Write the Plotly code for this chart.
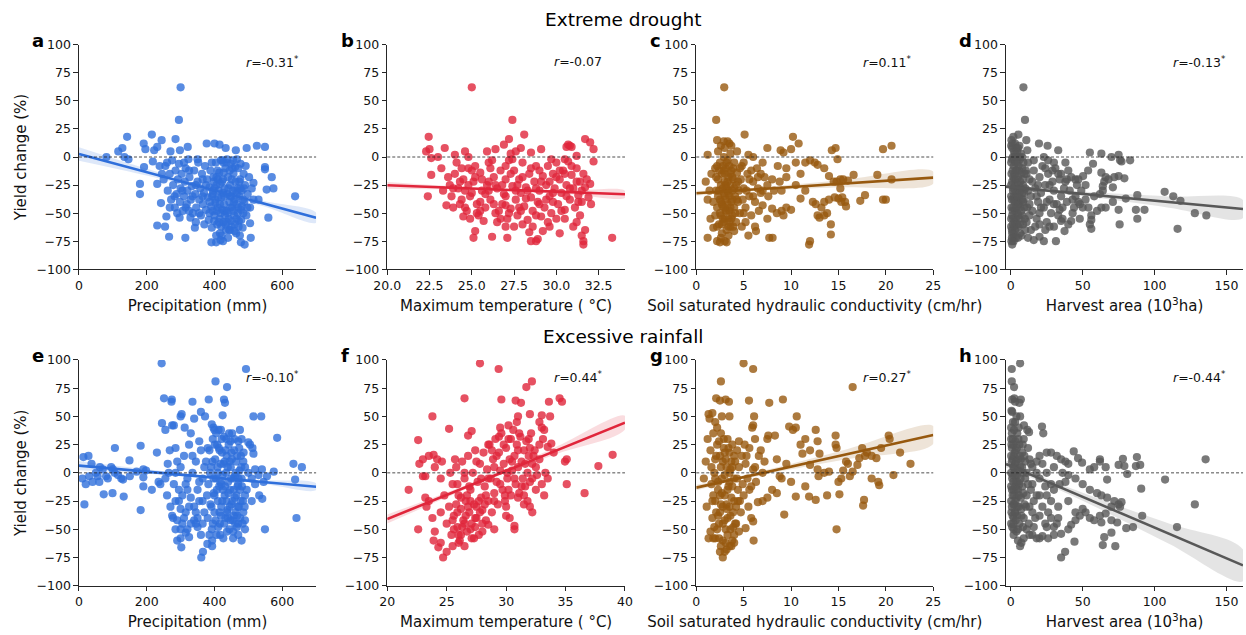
import plotly.graph_objects as go

FONT = "DejaVu Sans"

# ---------------- Extreme drought: (x, yield change %) ----------------
drought_precip = [
    (300,62),(295,33),(81,0),(116,5),(128,8),(142,18),(134,0),(146,-2),(180,-24),(180,-33),(191,12),(196,7),
    (215,20),(218,-4),(222,6),(231,9),(244,15),(231,-61),(254,-62),(266,-71),(314,-72),(258,-53),(192,-9),
    (231,-24),(242,-41),(297,-54),(329,-54),(342,-63),(391,-76),(405,-76),(418,-74),(425,-75),(478,-76),
    (489,-78),(507,-72),(505,-59),(559,-54),(554,-29),(574,-28),(569,-18),(549,-9),(549,-11),(638,-35),
    (549,9),(525,10),(495,8),(463,6),(377,12),(400,12),(415,11),(433,8),(321,9),(285,16),(298,6),(515,-23),
    (530,-38),(245,-15),(260,-5),(270,5),(238,-8),
    (250,-20),(255,-8),(262,-30),(268,-15),(272,-38),(275,-3),(278,-25),(283,-45),(285,-12),(288,-33),
    (292,-20),(295,-6),(298,-40),(300,-28),(303,-15),(306,-48),(310,-35),(312,-22),(315,-10),(318,-42),
    (320,-30),(323,-2),(326,-18),(330,-38),(333,-26),(336,-50),(340,-12),(343,-33),(346,-45),(350,-22),
    (352,-5),(355,-38),(358,-28),(360,-52),(363,-15),(366,-42),(369,-32),(372,-8),(375,-47),(378,-20),
    (380,-36),(383,-56),(385,-27),(388,-12),(390,-44),(392,-63),(395,-33),(397,-18),(400,-52),(402,-38),
    (404,-5),(406,-25),(408,-60),(410,-45),(412,-30),(414,-14),(416,-68),(418,-50),(420,-36),(422,-22),
    (424,-3),(426,-58),(428,-42),(430,-28),(432,-10),(434,-65),(436,-48),(438,-33),(440,-18),(442,-55),
    (444,-40),(446,-25),(448,-6),(450,-62),(452,-45),(454,-30),(456,-15),(458,-52),(460,-38),(462,-22),
    (464,-68),(466,-42),(468,-28),(470,-10),(472,-57),(474,-35),(476,-20),(478,-47),(480,-30),(483,-63),
    (486,-15),(488,-40),(490,-25),(494,-52),(498,-33),(502,-18),(505,-45),(510,-28),(515,-38),
    (405,-70),(415,-55),(425,-20),(435,-5),(445,-65),(455,-3),(465,-55),(475,-70),(485,-50),(420,-62),
    (440,-72),(460,-60),(430,-48),(450,-35),(410,-20),(400,-28),(395,-48),(470,-45),(425,-32),(445,-12),
]
drought_precip_core = [
    (392,-5),(398,-22),(403,-41),(409,-12),(413,-58),(419,-3),(423,-47),(427,-14),(431,-52),(437,-2),
    (441,-28),(447,-45),(451,-20),(457,-40),(461,-9),(467,-32),(471,-62),(477,-6),(481,-44),(487,-28),
    (393,-35),(399,-57),(407,-48),(411,-36),(417,-24),(421,-70),(429,-35),(433,-60),(439,-50),(443,-65),
    (449,-57),(453,-10),(459,-66),(463,-30),(469,-50),(473,-22),(479,-56),(484,-38),(492,-8),(497,-45),
    (386,-40),(396,-30),(426,-5),(446,-35),(466,-2),(436,-58),(456,-48),(476,-28),(406,-18),(416,-42),
    (305,-30),(315,-45),(325,-12),(335,-35),(345,-25),(355,-50),(365,-35),(375,-25),(385,-50),(365,-20),
    (345,-58),(325,-48),(310,-5),(370,-60),(350,-2),(282,-35),(290,-50),(268,-45),
]

drought_tmax = [
    (25.0,62),(27.4,33),(22.45,18),(22.3,5),(22.5,7),(22.6,-1),(22.6,-16),(22.4,-35),(23.4,8),(23.0,0),
    (23.2,-10),(23.3,-30),(23.5,-43),(24.0,2),(24.6,5),(24.8,0),(25.2,-66),(25.1,-72),(26.2,-71),(27.1,-72),
    (28.1,20),(27.2,16),(26.9,11),(25.9,5),(26.4,7),(27.9,8),(28.5,4),(29.1,7),(30.6,9),(30.7,11),(30.8,10),
    (30.9,9),(31.2,1),(31.7,16),(32.0,13),(32.2,7),(32.2,-4),(32.05,-42),(33.3,-72),(31.6,-78),(31.6,-75),
    (31.7,-65),(31.5,-70),(31.2,-58),(31.4,-52),(31.0,-62),(28.5,-75),(28.8,-75),(28.9,-73),(28.0,-60),
    (28.4,-67),(29.2,-66),(29.6,-62),(30.2,-68),(30.5,-55),(27.0,-62),(26.5,-58),(24.5,-53),(23.9,-45),
    (24.0,-15),(24.2,-28),(24.4,-38),(24.5,-20),(24.7,-48),(24.8,-10),(25.0,-32),(25.1,-22),(25.3,-42),
    (25.4,-52),(25.5,-14),(25.6,-30),(25.8,-45),(25.9,-25),(26.0,-5),(26.1,-38),(26.3,-18),(26.4,-50),
    (26.5,-28),(26.7,-12),(26.8,-42),(26.9,-33),(27.0,-20),(27.1,-55),(27.2,-3),(27.3,-46),(27.4,-26),
    (27.5,-12),(27.6,-38),(27.7,-52),(27.8,-20),(27.9,-32),(28.0,-5),(28.1,-44),(28.2,-27),(28.3,-56),
    (28.4,-15),(28.5,-36),(28.6,-48),(28.7,-22),(28.8,-8),(28.9,-40),(29.0,-30),(29.1,-53),(29.2,-17),
    (29.3,-45),(29.4,-25),(29.5,-8),(29.6,-35),(29.7,-50),(29.8,-15),(29.9,-28),(30.0,-5),(30.1,-42),
    (30.2,-20),(30.3,-32),(30.4,-12),(30.5,-47),(30.6,-25),(30.7,-4),(30.8,-38),(30.9,-16),(31.0,-28),
    (31.1,-45),(31.2,-10),(31.3,-34),(31.4,-22),(31.5,-40),(31.6,-15),(31.7,-27),(31.8,-20),(32.0,-24),
    (31.9,-36),(23.6,-18),(23.7,-25),(23.8,-35),(24.1,-5),(24.3,-42),(24.9,-55),(25.2,-8),(25.7,-57),
    (26.2,-3),(26.6,-48),(27.5,-62),(28.6,-62),(29.5,-58),(30.0,-55),(26.0,-22),(27.0,-35),(28.0,-18),
    (29.0,-12),(30.5,-2),(25.5,-40),(24.6,-30),(27.8,-45),(29.8,-40),(26.8,-25),(27.3,3),(27.6,5),(27.4,-2),
]
drought_tmax_core = [
    (24.3,-22),(24.6,-45),(24.9,-35),(25.2,-18),(25.5,-48),(25.8,-33),(26.1,-10),(26.4,-25),(26.7,-55),
    (27.0,-43),(27.3,-15),(27.6,-30),(27.9,-48),(28.2,-37),(28.5,-10),(28.8,-52),(29.1,-22),(29.4,-38),
    (29.7,-2),(30.0,-18),(30.3,-48),(30.6,-35),(30.9,-8),(31.2,-22),(31.5,-30),(24.8,-25),(25.6,-20),
    (26.3,-42),(27.0,-8),(27.7,-25),(28.3,-30),(29.0,-42),(29.6,-22),(30.2,-12),(30.8,-28),(31.3,-40),
    (25.0,-12),(26.0,-30),(27.2,-50),(28.8,-28),(29.8,-32),(30.5,-15),(25.3,-50),(24.4,-10),(23.9,-28),
]

drought_ksat = [
    (2.95,62),(2.1,33),(2.2,15),(2.6,10),(2.9,14),(3.3,14),(3.5,12),(3.7,10),(4.3,5),(1.2,2),(5.1,20),
    (10.2,18),(10.8,12),(7.5,8),(8.9,6),(9.2,4),(10.0,7),(14.3,6),(14.7,8),(14.9,-2),(19.7,7),(20.6,10),
    (20.6,-20),(19.7,-38),(20.0,-38),(19.1,-16),(17.8,-34),(17.3,-39),(16.6,-16),(15.2,-20),(15.5,-20),
    (16.0,-21),(15.7,-40),(15.8,-44),(15.4,-36),(14.2,-69),(14.2,-60),(13.8,-50),(13.5,-52),(11.9,-78),
    (12.0,-75),(7.7,-72),(8.05,-72),(1.2,-72),(2.2,-75),(2.5,-76),(3.0,-75),(3.2,-76),(5.5,-70),(6.3,-66),
    (6.2,-62),(12.8,-52),(13.0,-54),(13.2,-45),(11.0,-37),(11.5,-30),(12.3,-40),(12.6,-42),(13.5,-40),
    (14.0,-38),(14.6,-36),(15.0,-37),(15.3,-40),(13.5,-10),(12.5,-5),(12.0,-3),(12.8,-7),(14.0,-17),
    (14.5,-22),(14.8,-22),(15.2,-28),(9.0,-48),(9.5,-45),(10.0,-47),(9.2,-52),(8.5,-50),(8.0,-46),(7.0,-43),
    (7.5,-55),(6.5,-28),(7.5,-25),(8.0,-20),(8.8,-22),(9.5,-18),(10.5,-25),(11.0,-15),(11.5,-5),(10.5,-5),
    (9.5,-10),(6.0,0),(7.0,-5),(5.5,2),(4.8,-8),(6.8,-15),(5.8,-12),(1.0,-22),(1.2,-38),(1.5,-55),(1.8,-63),
    (1.4,-30),
    (2.0,-10),(2.1,-30),(2.2,-45),(2.3,-20),(2.4,-60),(2.5,-5),(2.5,-38),(2.6,-52),(2.7,-15),(2.7,-68),
    (2.8,-28),(2.8,-44),(2.9,0),(2.9,-58),(3.0,-22),(3.0,-35),(3.1,-48),(3.1,-10),(3.2,-65),(3.2,-28),
    (3.3,-42),(3.3,-3),(3.4,-55),(3.4,-18),(3.5,-35),(3.5,-48),(3.6,-25),(3.6,-62),(3.7,-12),(3.7,-40),
    (3.8,-30),(3.8,-52),(3.9,-20),(4.0,-45),(4.0,-5),(4.1,-35),(4.2,-58),(4.2,-25),(4.3,-14),(4.4,-40),
    (4.5,-30),(4.6,-50),(4.7,-20),(4.9,-38),(5.0,-28),(5.2,-45),(5.4,-15),(5.6,-35),(5.8,-52),(6.0,-22),
    (6.2,-40),(6.4,-10),(6.6,-48),(6.8,-32),(7.2,-18),(7.6,-35),(8.2,-30),(8.6,-8),(9.0,-30),(2.3,5),
    (3.0,8),(3.6,3),(2.6,-72),(3.4,-70),(4.0,-66),(1.8,-40),(1.6,-15),(2.0,-52),(4.8,-62),(5.2,-58),
]
drought_ksat_core = [
    (2.1,-18),(2.2,-62),(2.3,-35),(2.4,-12),(2.5,-50),(2.6,-25),(2.7,-42),(2.8,-8),(2.9,-32),(3.0,-55),
    (3.0,-15),(3.1,-38),(3.2,-5),(3.2,-48),(3.3,-22),(3.4,-62),(3.4,-32),(3.5,-8),(3.6,-45),(3.6,-15),
    (3.7,-55),(3.8,-38),(3.9,-10),(3.9,-62),(4.0,-28),(4.1,-50),(4.3,-38),(4.4,-22),(2.4,-30),(2.6,-40),
    (2.8,-55),(3.0,-45),(3.3,-30),(3.5,-58),(3.8,-18),(2.9,-12),(3.1,-25),(2.7,-60),(2.2,-8),(4.6,-10),
    (5.0,-50),(5.3,-30),(5.6,-20),(6.0,-35),(6.5,-18),(7.0,-30),(5.0,-5),
]

drought_area = [
    (8.8,62),(9.9,33),(5.3,20),(10.8,15),(11.5,6),(19.6,12),(25.6,10),(33,6),(55,4),(63,3),(70,0),(75,2),
    (76,-3),(77,-4),(83,-3),(50.3,-17),(53.8,-12),(57.2,-6),(63,-14),(65,-22),(66,-18),(68,-20),(72,-18),
    (75,-17),(79,-19),(64,-26),(64,-30),(71,-27),(62,-33),(71,-40),(80,-37),(75,-47),(87,-47),(93,-47),
    (88,-55),(75.7,-60),(88,-34),(107,-31),(113,-35),(118,-39),(128,-50),(136,-52),(116,-64),(55,-60),
    (56,-64),(56,-52),(56,-56),(31.4,-75),(30,-62),(37.4,-66),(23,-75),(16,-74),(20,-71),(12,-72),(1,-78),
    (2,-75),(5,-72),(40,-60),(42,-57),(35,-57),(48,-55),(44,-45),(50,-45),(47,-40),(52,-38),(60,-48),
    (63,-45),(66,-45),(23,0),(26,-3),(30,-5),(40,-12),(45,-20),(35,-15),(38,-22),
    (0.5,15),(1,8),(1.5,0),(2,-8),(0.5,-15),(1,-22),(1.5,-30),(2,-38),(0.5,-45),(1,-52),(1.5,-60),(2,-68),
    (0.8,-72),(3,12),(3,3),(3.5,-12),(3,-25),(3.5,-35),(3,-48),(3.5,-55),(3,-65),(4.5,5),(4.5,-5),(5,-18),
    (4.5,-28),(5,-42),(4.5,-50),(5,-62),(6,10),(6.5,-2),(6,-12),(6.5,-22),(6,-35),(6.5,-45),(6,-55),
    (6.5,-68),(8,0),(8,-10),(8.5,-25),(8,-32),(8.5,-40),(8,-52),(8.5,-60),(9.5,-15),(10,-28),(9.5,-45),
    (10,-65),(0.3,-5),(0.3,-35),(0.3,-62),(2.5,-20),(4,-40),(7,-28),(7.5,-70),(1.2,12),(2.2,5),(5.5,-8),
    (12,-5),(13,-20),(14,-35),(15,-48),(16,-12),(17,-28),(18,-55),(19,-40),(20,-18),(21,-32),(22,-8),
    (23,-45),(24,-25),(25,-58),(26,-15),(27,-38),(28,-50),(29,-22),(30,-30),(31,-10),(32,-42),(33,-52),
    (34,-20),(35,-35),(36,-45),(37,-28),(38,-5),(39,-40),(41,-30),(42,-18),(43,-50),(45,-35),(46,-25),
    (48,-42),(49,-30),(52,-25),(54,-45),(58,-35),(11,-58),(14,-65),(17,-62),(20,-60),(13,-42),(24,-65),
    (27,-62),
]
drought_area_core = [
    (0.3,10),(0.8,-2),(1.3,-12),(0.3,-25),(0.8,-38),(1.3,-48),(0.3,-55),(0.8,-65),(1.8,18),(1.8,-18),
    (1.8,-28),(1.8,-45),(1.8,-55),(2.3,-2),(2.3,-35),(2.3,-62),(2.8,-15),(2.8,-40),(2.8,-58),(3.3,-5),
    (3.3,-30),(3.8,-45),(3.8,-20),(3.8,8),(4.3,-60),(4.3,-12),(4.8,-35),(5.3,-52),(5.3,-25),(5.8,0),
    (5.8,-42),(6.3,-60),(6.8,-30),(7.3,-15),(7.3,-48),(7.8,-38),(8.3,-20),(8.8,-5),(9.3,-32),(9.8,-55),
    (1.0,-68),(2.0,-72),(3.5,-72),(0.5,-75),(4.0,0),(5.0,8),(7.0,3),(9.0,-38),(10.5,-12),(11.5,-45),
    (12,-30),(15,-22),(18,-35),(21,-45),(24,-10),(27,-25),(30,-42),(33,-15),(36,-55),(39,-20),(16,-3),
    (20,-50),(25,-40),(29,-12),(34,-47),(43,-38),(47,-20),(11,-15),(13,-52),(19,-25),
]

# ---------------- Excessive rainfall: (x, yield change %) ----------------
rain_precip = [
    (244,97),(493,92),(403,81),(437,76),(251,66),(274,65),(273,63),(335,63),(383,65),(428,65),(431,62),
    (360,54),(372,50),(300,50),(303,52),(340,48),(424,51),(245,44),(255,38),(275,42),(280,42),(312,40),
    (330,35),(392,43),(400,38),(515,50),(538,50),(585,31),(500,27),(505,25),(512,22),(480,30),(515,17),
    (106,22),(13,14),(28,15),(37,8),(182,24),(149,11),(230,18),(633,8),(658,5),(575,1),(638,-6),(642,-40),
    (549,-50),(541,-23),(532,-20),(490,-20),(510,-25),(16,-28),(73,-19),(99,-18),(132,-21),(182,-33),
    (125,-5),(190,-12),(190,-4),(215,-15),(275,-38),(278,-40),(300,-32),(285,-50),(300,-50),(290,-60),
    (300,-58),(302,-66),(315,-53),(320,-50),(325,-57),(361,-75),(366,-70),(379,-63),(393,-65),(360,-55),
    (350,-48),(350,-40),(340,-42),(10,-5),(20,-10),(30,-3),(40,-8),(50,0),(55,-3),(60,-8),(62,5),(70,3),
    (80,-3),(85,-5),(95,5),(100,3),(105,0),(115,-2),(130,-6),(150,-3),(170,1),(190,3),(198,2),(480,-60),
    (470,-55),(490,-50),(455,-52),(470,-45),(460,-3),(470,-10),(480,-5),(490,5),(500,0),(510,-5),(520,-10),
    (530,-2),(545,-8),(555,-3),(520,3),(540,3),(235,-8),(240,-10),(255,-5),(262,8),(268,20),(285,22),(290,10),
    (380,-40),(382,-10),(385,20),(388,-28),(390,5),(392,-50),(395,30),(398,-18),(400,-35),(402,12),(404,-5),
    (406,-55),(408,25),(410,-25),(412,38),(414,-12),(416,-45),(418,8),(420,-30),(422,18),(424,-2),(426,-58),
    (428,32),(430,-20),(432,-40),(434,0),(436,15),(438,-33),(440,-8),(442,25),(444,-50),(446,-15),(448,5),
    (450,-28),(452,35),(454,-42),(456,-5),(458,20),(460,-22),(462,-35),(464,10),(466,-48),(468,-12),(470,28),
    (472,-30),(474,2),(476,-40),(478,15),(380,22),(385,-55),(395,-45),(405,35),(415,-35),(425,-15),(435,-25),
    (445,10),(455,-58),(465,-20),(475,-15),(485,-35),(490,-42),(484,-25),(486,18),(410,0),(420,-10),(430,10),
    (440,-40),(450,18),(400,-20),(415,20),(435,30),(445,-30),
    (260,-20),(265,0),(270,-30),(280,-10),(285,-25),(290,-42),(295,-15),(300,5),(305,-20),(310,15),(315,-35),
    (320,-5),(325,25),(330,-22),(335,0),(340,-30),(345,10),(350,-15),(355,-25),(360,20),(365,-5),(370,-35),
    (375,10),(378,-20),(345,-45),(330,-45),(310,-40),(365,-45),(355,28),(320,-15),
]
rain_precip_core = [
    (391,-30),(394,10),(397,-5),(401,25),(403,-42),(407,-15),(409,5),(411,-48),(413,22),(417,-8),(419,-38),
    (421,30),(423,-25),(427,8),(429,-45),(431,-12),(433,20),(437,-35),(439,5),(441,-18),(443,35),(447,-42),
    (449,-5),(451,12),(453,-25),(457,-15),(459,30),(461,-45),(463,0),(467,15),(469,-30),(471,-5),(473,22),
    (477,-25),(479,5),(481,-12),(393,-60),(417,-55),(437,-52),(457,-38),(387,0),(397,40),(419,38),(447,28),
    (467,-38),(483,-45),(489,-30),(475,38),(485,10),(495,-15),(365,-25),(370,5),(355,-8),(345,-35),(335,15),
    (325,-30),(315,-10),(305,-45),(295,-25),(285,0),
]

rain_tmax = [
    (27.8,97),(29.37,92),(32.17,81),(31.7,76),(26.5,66),(29.6,65),(30.8,64),(31.25,62),(33.6,63),(34.5,66),
    (34.7,63),(23.8,50),(25.2,39),(22.6,29),(21.8,-15),(22.6,-50),(22.7,8),(23.0,12),(23.2,-3),(23.0,-3),
    (23.5,15),(23.9,16),(24.2,12),(24.7,-75),(25.0,-70),(24.5,-62),(24.3,-66),(23.9,-60),(35.1,-10),
    (34.95,10),(35.1,12),(37.76,6),(38.96,16),(36.6,-18),(33.7,50),(33.0,51),(32.8,45),(33.0,40),(33.2,38),
    (30.7,-47),(30.7,-50),(29.0,-50),(28.5,-46),(30.0,-38),(30.3,-40),(32.2,-35),(31.5,-28),(32.0,-30),
    (33.3,0),(33.5,-5),(33.0,-10),(33.2,-20),(23.5,-25),(23.8,-40),(24.0,-52),(23.2,-22),(23.3,-30),
    (24.0,5),(24.5,-5),(26.8,33),(27.1,37),(28.5,25),(29.5,40),(30.2,42),(31.0,50),(32.0,52),(33.5,23),
    (34.0,18),(33.8,26),
    (25.0,-45),(25.2,-30),(25.4,-55),(25.5,-10),(25.6,-38),(25.8,5),(25.9,-48),(26.0,-20),(26.1,-60),
    (26.2,-32),(26.3,10),(26.4,-42),(26.5,-5),(26.6,-25),(26.7,-52),(26.8,15),(26.9,-35),(27.0,-15),
    (27.1,-45),(27.2,0),(27.3,-28),(27.4,20),(27.5,-40),(27.6,-8),(27.7,-55),(27.8,8),(27.9,-22),(28.0,-33),
    (28.1,18),(28.2,-12),(28.3,-42),(28.4,3),(28.5,-25),(28.6,25),(28.7,-5),(28.8,-35),(28.9,12),(29.0,-18),
    (29.1,30),(29.2,-8),(29.3,-28),(29.4,18),(29.5,2),(29.6,35),(29.7,-15),(29.8,8),(29.9,-25),(30.0,22),
    (30.1,-5),(30.2,30),(30.3,12),(30.4,-20),(30.5,2),(30.6,38),(30.7,15),(30.8,-10),(30.9,25),(31.0,5),
    (31.1,-18),(31.2,32),(31.3,10),(31.4,-5),(31.5,20),(31.6,-12),(31.7,28),(31.8,0),(31.9,15),(32.0,-8),
    (32.1,35),(32.2,8),(32.4,20),(32.6,-2),(32.8,12),(25.3,0),(25.7,12),(26.0,-55),(26.5,-65),(27.0,-50),
    (27.5,-30),(25.5,-65),(26.3,-48),(27.3,-58),(28.0,-45),(26.7,-20),(27.9,-5),(29.0,5),(30.0,-30),
    (31.0,-22),(32.5,-15),(24.5,-35),(24.8,-20),(24.6,10),
]
rain_tmax_core = [
    (25.6,-50),(25.9,-35),(26.2,-22),(26.5,-45),(26.8,-30),(27.1,-58),(27.4,-40),(27.7,-25),(28.0,-52),
    (28.3,-20),(25.8,-28),(26.2,-55),(26.6,-38),(27.0,-25),(27.4,-48),(27.8,-35),(28.2,-28),(25.5,-42),
    (26.0,-62),(26.9,-12),(29.2,15),(29.5,-10),(29.8,25),(30.1,0),(30.4,30),(30.7,-5),(31.0,20),(31.3,-12),
    (31.6,8),(31.9,30),(32.2,-5),(32.5,5),(29.4,32),(29.9,-20),(30.5,10),(31.1,35),(31.5,-20),(32.0,22),
    (32.3,15),(30.2,-15),(28.8,20),(28.5,-5),(27.5,10),(26.5,0),(25.9,-10),(29.0,-25),(31.8,-25),(32.8,25),
    (33.1,30),(30.9,45),
]

rain_ksat = [
    (4.99,97),(6.0,92),(2.6,81),(16.5,76),(2.1,66),(2.5,64),(3.1,65),(3.45,63),(5.56,64),(7.7,62),(9.14,65),
    (1.3,52),(1.4,48),(1.7,53),(2.7,50),(3.5,50),(6.1,50),(6.0,42),(5.9,40),(10.6,50),(9.8,41),(10.2,38),
    (10.5,40),(7.6,33),(8.3,33),(7.5,30),(12.6,38),(11.5,30),(12.8,28),(14.7,33),(14.7,25),(14.8,22),
    (11.0,25),(12.0,20),(13.0,17),(11.2,17),(20.3,33),(20.4,30),(21.5,18),(22.6,8),(20.8,-2),(19.2,-8),
    (19.3,-11),(19.5,22),(18.5,15),(17.5,22),(18.0,18),(17.8,15),(17.2,13),(19.0,13),(17.7,-24),(17.6,-29),
    (14.8,-50),(9.28,-37),(6.05,-60),(5.2,-49),(5.8,-40),(6.0,-43),(2.8,-75),(2.5,-70),(3.2,-68),(3.5,-65),
    (4.0,-62),(2.0,-58),(1.3,-58),(1.5,-52),(10.5,-21),(11.9,-21),(13.8,-20),(15.1,-19),(12.6,-24),
    (11.5,-12),(10.0,-8),(9.0,-5),(8.5,-18),(8.0,-15),(7.5,-22),(6.5,-26),(7.0,-25),(15.0,-8),(15.3,-5),
    (16.2,-3),(16.5,1),(15.5,2),(14.0,1),(13.5,0),(12.8,3),(12.9,-3),(12.0,7),(16.0,8),(15.8,10),(17.0,7),
    (18.5,-5),(6.2,30),(6.8,20),(7.2,10),(8.5,12),(9.5,8),(8.8,-3),(1.0,10),(0.8,-5),(1.2,30),(1.1,-30),
    (4.5,-52),(4.2,-45),
    (1.5,20),(1.6,-10),(1.7,-40),(1.8,35),(1.9,0),(2.0,-25),(2.1,15),(2.2,-50),(2.3,-8),(2.4,28),(2.5,-35),
    (2.6,5),(2.7,-18),(2.8,-60),(2.9,22),(3.0,-42),(3.0,-2),(3.1,12),(3.2,-28),(3.3,30),(3.3,-55),(3.4,-12),
    (3.5,18),(3.6,-38),(3.6,3),(3.7,-22),(3.8,25),(3.9,-48),(4.0,-5),(4.1,10),(4.2,-30),(4.3,20),(4.4,-15),
    (4.5,5),(4.7,-35),(4.8,15),(5.0,-20),(5.2,8),(5.4,-5),(5.6,22),(5.8,-12),(6.0,3),(6.3,-8),(6.6,15),
    (7.0,0),(2.2,40),(2.6,-65),(3.0,-70),(3.8,-60),(1.8,-20),(2.4,-45),(3.2,-32),(4.0,-25),(2.8,10),
    (3.5,-8),(2.0,45),
]
rain_ksat_core = [
    (1.6,5),(1.7,-25),(1.9,-48),(2.0,12),(2.1,-35),(2.2,25),(2.3,-15),(2.4,-58),(2.5,15),(2.6,-28),(2.7,-5),
    (2.8,-45),(2.9,30),(3.0,-20),(3.1,-62),(3.2,5),(3.3,-40),(3.4,22),(3.5,-30),(3.6,-50),(3.7,10),(3.8,-12),
    (3.9,-35),(4.0,15),(4.1,-45),(4.3,-5),(4.4,-25),(2.0,-5),(2.5,-20),(3.0,18),(3.5,0),(4.0,-55),(2.3,-38),
    (2.8,-30),(3.3,-15),(3.8,5),(2.6,35),(3.1,-50),(1.8,-58),(3.7,-65),(4.5,28),(4.9,-10),(5.3,15),
    (5.6,-15),(6.2,5),(4.6,-25),(5.1,25),(5.5,-30),
]

rain_area = [
    (6.5,97),(0.7,92),(0.7,81),(2.3,76),(1,65),(2.5,66),(3,63),(7,65),(6,62),(1,54),(6.5,50),(9.2,42),
    (11.5,38),(12.7,36),(21.7,41),(22.6,35),(43.8,19),(46.8,13),(49.6,9),(58,5),(62,10),(62,12),(66,5),
    (55,3),(67,-6),(75,7),(78,12.5),(79,6),(81,-1),(87.7,14),(87,6),(90,7),(90.7,-14),(91.4,-38),(80.3,-49),
    (85,-48),(107.3,-6),(115.6,-48),(128,-28),(135.5,12),(35,-75),(37.8,-70),(44.3,-61),(64,-64),(72.7,-65),
    (70,-53),(65,-57),(63,-44),(6.5,-65),(5,-60),(7.4,-62),(2,-50),(5,-50),(4,-52),(2,-40),(3,-35),(15,-55),
    (18,-58),(20,-58),(22,-56),(26,-58),(30,-55),(35,-54),(40,-50),(42,-46),(45,-42),(48,-38),(52,-35),
    (25,-20),(30,-15),(34,-10),(38,-8),(28,-25),(22,-30),(33,-30),(40,-25),(45,-35),(50,-32),(55,-40),
    (58,-42),(62,-38),(66,-36),(70,-42),(74,-44),(76,-30),(70,-30),(72,-25),(40,-2),(45,-5),(50,-10),
    (55,-15),(60,-18),(63,-20),(67,-22),(75,-28),(77,-26),(20,15),(25,18),(28,18),(32,15),(35,12),(38,10),
    (40,8),(30,5),(25,0),(20,-5),(15,-10),(15,5),(18,10),(22,8),
    (0.3,40),(0.5,25),(0.8,10),(1,-5),(1.3,-20),(0.5,-35),(1,-48),(1.5,30),(2,15),(2.5,0),(2,-15),
    (2.5,-28),(3,45),(3.5,20),(3,8),(3.5,-8),(4,-22),(3.5,-42),(4.5,35),(5,12),(4.5,-2),(5,-15),(5.5,-30),
    (6,25),(6.5,5),(6,-10),(7,-22),(7.5,-38),(8,18),(8.5,0),(8,-12),(9,30),(9.5,-28),(10,10),(10,-5),
    (11,-20),(12,22),(12.5,-45),(13,-30),(14,8),(14,-15),(16,-25),(17,-40),(18,0),(0.5,55),(1.5,45),(4,50),
    (2,-55),(0.3,-25),(1.8,5),(3.2,-12),(5.5,40),(7,12),(8.5,-48),(11,-50),(13,-55),(9,-58),(6,-45),
    (4.5,-38),(24,-45),(28,-40),(32,-45),(26,-35),(30,-48),(20,-38),(18,-20),(24,-12),(16,-48),
]
rain_area_core = [
    (0.3,30),(0.3,15),(0.3,0),(0.3,-12),(0.3,-45),(0.8,35),(0.8,22),(0.8,-15),(0.8,-30),(1.3,12),(1.3,-2),
    (1.3,-38),(1.8,25),(1.8,-8),(1.8,-28),(1.8,-45),(2.3,38),(2.3,5),(2.3,-20),(2.8,18),(2.8,-35),(3.3,28),
    (3.3,-2),(3.3,-25),(3.8,10),(3.8,-15),(4.3,22),(4.3,-30),(4.8,-8),(5.3,30),(5.3,2),(5.8,-20),(6.3,15),
    (6.8,-5),(7.3,-32),(7.8,5),(8.3,25),(8.8,-18),(9.5,15),(10.5,-30),(11,0),(13,12),(15,-35),(20,-20),
    (25,-48),(28,-10),(33,-40),(36,0),(12,-10),(9,-40),
]

# ---------------- regression fits: end points and 95% band ----------------
fit_a_x, fit_a_y = [0, 700], [2.7, -54.0]
band_a_x = [0, 200, 400, 550, 700]
band_a_lo = [-3.3, -16.5, -31.2, -44.4, -58.5]
band_a_hi = [8.7, -10.5, -28.2, -39.4, -49.5]

fit_b_x, fit_b_y = [20, 34.06], [-25.2, -33.2]
band_b_x = [20, 23, 27, 31, 34.06]
band_b_lo = [-28.2, -28.7, -30.2, -33.3, -36.2]
band_b_hi = [-22.2, -25.1, -28.2, -29.7, -30.2]

fit_c_x, fit_c_y = [0, 25], [-32.3, -18.4]
band_c_x = [0, 2, 5, 15, 25]
band_c_lo = [-34.5, -32.7, -30.8, -27.0, -23.9]
band_c_hi = [-30.1, -29.7, -28.2, -21.0, -12.9]

fit_d_x, fit_d_y = [-3.3, 161.5], [-26.4, -46.3]
band_d_x = [-3.3, 15, 50, 110, 161.5]
band_d_lo = [-28.4, -30.1, -34.8, -45.1, -54.3]
band_d_hi = [-24.4, -27.1, -30.8, -35.1, -38.3]

fit_e_x, fit_e_y = [0, 700], [6.4, -12.3]
band_e_x = [0, 200, 400, 550, 700]
band_e_lo = [2.4, -0.9, -5.5, -10.1, -15.3]
band_e_hi = [10.4, 3.1, -3.1, -6.5, -9.3]

fit_f_x, fit_f_y = [20, 40], [-40.9, 44.5]
band_f_x = [20, 24, 28.5, 34, 40]
band_f_lo = [-44.9, -26.3, -6.1, 15.9, 38.5]
band_f_hi = [-36.9, -21.3, -3.1, 21.9, 50.5]

fit_g_x, fit_g_y = [0, 25], [-13.1, 33.5]
band_g_x = [0, 3, 8, 16, 25]
band_g_lo = [-15.6, -9.0, -0.2, 12.2, 25.5]
band_g_hi = [-10.6, -6.0, 3.8, 21.2, 41.5]

fit_h_x, fit_h_y = [-3.3, 161.5], [7.8, -82.0]
band_h_x = [-3.3, 15, 50, 110, 161.5]
band_h_lo = [4.8, -4.7, -24.7, -62.9, -96.0]
band_h_hi = [10.8, 0.3, -17.7, -44.9, -68.0]

# correlation labels (value, significant)
r_labels = [("-0.31", True), ("-0.07", False), ("0.11", True), ("-0.13", True),
            ("-0.10", True), ("0.44", True), ("0.27", True), ("-0.44", True)]

BLUE, RED, BROWN, GRAY = "#2f6fdb", "#e0263b", "#97590f", "#585858"


def rgba(hex_color, a):
    h = hex_color.lstrip("#")
    r, g, b = int(h[0:2], 16), int(h[2:4], 16), int(h[4:6], 16)
    return f"rgba({r},{g},{b},{a})"


x_titles = ["Precipitation (mm)", "Maximum temperature ( °C)",
            "Soil saturated hydraulic conductivity (cm/hr)", "Harvest area (10<sup>3</sup>ha)"]

panels = [
    dict(letter="a", pts=drought_precip + drought_precip_core, color=BLUE, xr=[0, 700],
         tv=[0, 200, 400, 600], fmt="", fx=fit_a_x, fy=fit_a_y, bx=band_a_x, blo=band_a_lo, bhi=band_a_hi),
    dict(letter="b", pts=drought_tmax + drought_tmax_core, color=RED, xr=[20, 34.06],
         tv=[20, 22.5, 25, 27.5, 30, 32.5], fmt=".1f", fx=fit_b_x, fy=fit_b_y, bx=band_b_x, blo=band_b_lo,
         bhi=band_b_hi),
    dict(letter="c", pts=drought_ksat + drought_ksat_core, color=BROWN, xr=[0, 25],
         tv=[0, 5, 10, 15, 20, 25], fmt="", fx=fit_c_x, fy=fit_c_y, bx=band_c_x, blo=band_c_lo, bhi=band_c_hi),
    dict(letter="d", pts=drought_area + drought_area_core, color=GRAY, xr=[-3.3, 161.5],
         tv=[0, 50, 100, 150], fmt="", fx=fit_d_x, fy=fit_d_y, bx=band_d_x, blo=band_d_lo, bhi=band_d_hi),
    dict(letter="e", pts=rain_precip + rain_precip_core, color=BLUE, xr=[0, 700],
         tv=[0, 200, 400, 600], fmt="", fx=fit_e_x, fy=fit_e_y, bx=band_e_x, blo=band_e_lo, bhi=band_e_hi),
    dict(letter="f", pts=rain_tmax + rain_tmax_core, color=RED, xr=[20, 40],
         tv=[20, 25, 30, 35, 40], fmt="", fx=fit_f_x, fy=fit_f_y, bx=band_f_x, blo=band_f_lo, bhi=band_f_hi),
    dict(letter="g", pts=rain_ksat + rain_ksat_core, color=BROWN, xr=[0, 25],
         tv=[0, 5, 10, 15, 20, 25], fmt="", fx=fit_g_x, fy=fit_g_y, bx=band_g_x, blo=band_g_lo, bhi=band_g_hi),
    dict(letter="h", pts=rain_area + rain_area_core, color=GRAY, xr=[-3.3, 161.5],
         tv=[0, 50, 100, 150], fmt="", fx=fit_h_x, fy=fit_h_y, bx=band_h_x, blo=band_h_lo, bhi=band_h_hi),
]

X_DOMAINS = [[0.0634, 0.2537], [0.3108, 0.5016], [0.5588, 0.7490], [0.8074, 0.9976]]
Y_DOMAINS = [[0.5759, 0.9296], [0.0776, 0.4331]]
AX_COLOR = "#262626"
TXT = "#111111"

fig = go.Figure()
layout = {}
annotations = []
shapes = []

for i, p in enumerate(panels):
    n = i + 1
    sfx = "" if n == 1 else str(n)
    xa, ya = "x" + sfx, "y" + sfx
    col, row = i % 4, i // 4
    xs = [pt[0] for pt in p["pts"]]
    ys = [pt[1] for pt in p["pts"]]

    fig.add_trace(go.Scatter(
        x=xs, y=ys, mode="markers", xaxis=xa, yaxis=ya, showlegend=False, hoverinfo="skip",
        marker=dict(size=8.2, color=p["color"], opacity=0.8, line=dict(width=0))))
    fig.add_trace(go.Scatter(
        x=p["bx"] + p["bx"][::-1], y=p["bhi"] + p["blo"][::-1], mode="lines", fill="toself",
        fillcolor=rgba(p["color"], 0.16), line=dict(width=0, shape="spline"),
        xaxis=xa, yaxis=ya, showlegend=False, hoverinfo="skip"))
    fig.add_trace(go.Scatter(
        x=p["fx"], y=p["fy"], mode="lines", line=dict(color=p["color"], width=2.6),
        xaxis=xa, yaxis=ya, showlegend=False, hoverinfo="skip"))

    axis_common = dict(showline=True, linecolor=AX_COLOR, linewidth=1.1, ticks="outside", ticklen=4.5,
                       tickwidth=1.1, tickcolor=AX_COLOR, showgrid=False, zeroline=False, automargin=False,
                       tickfont=dict(size=12.5, color=TXT, family=FONT))
    layout["xaxis" + sfx] = dict(
        axis_common, domain=X_DOMAINS[col], range=p["xr"], anchor=ya, tickmode="array", tickvals=p["tv"],
        tickformat=p["fmt"],
        title=dict(text=x_titles[col], font=dict(size=15, color=TXT, family=FONT), standoff=8))
    ydict = dict(axis_common, domain=Y_DOMAINS[row], range=[-100, 100], anchor=xa, tickmode="array",
                 tickvals=[-100, -75, -50, -25, 0, 25, 50, 75, 100])
    if col == 0:
        ydict["title"] = dict(text="Yield change (%)", font=dict(size=15, color=TXT, family=FONT), standoff=6)
    layout["yaxis" + sfx] = ydict

    # dashed reference line at zero change
    shapes.append(dict(type="line", xref=xa + " domain", yref=ya, x0=0, x1=1, y0=0, y1=0,
                       line=dict(color="#222222", width=0.8, dash="3px,2px"), layer="above"))

    # panel letter
    annotations.append(dict(text=f"<b>{p['letter']}</b>", xref=xa + " domain", yref=ya + " domain",
                            x=-0.205, y=1.0, xanchor="left", yanchor="middle", yshift=4, showarrow=False,
                            font=dict(size=18, color="#000000", family=FONT)))
    # correlation coefficient
    val, sig = r_labels[i]
    label = f"<i>r</i>={val}" + ("<sup>*</sup>" if sig else "")
    annotations.append(dict(text=label, xref=xa + " domain", yref=ya + " domain", x=0.695, y=0.925,
                            xanchor="left", yanchor="middle", showarrow=False,
                            font=dict(size=12.5, color=TXT, family=FONT)))

annotations.append(dict(text="Extreme drought", xref="paper", yref="paper", x=0.5, y=1 - 20 / 635,
                        xanchor="center", yanchor="middle", showarrow=False,
                        font=dict(size=18.5, color="#000000", family=FONT)))
annotations.append(dict(text="Excessive rainfall", xref="paper", yref="paper", x=0.5, y=1 - 336 / 635,
                        xanchor="center", yanchor="middle", showarrow=False,
                        font=dict(size=18.5, color="#000000", family=FONT)))

fig.update_layout(
    width=1246, height=635, margin=dict(l=0, r=0, t=0, b=0, autoexpand=False),
    paper_bgcolor="white", plot_bgcolor="white",
    font=dict(family=FONT, color=TXT),
    annotations=annotations, shapes=shapes, showlegend=False,
    **layout)

fig.write_html("out.html")
